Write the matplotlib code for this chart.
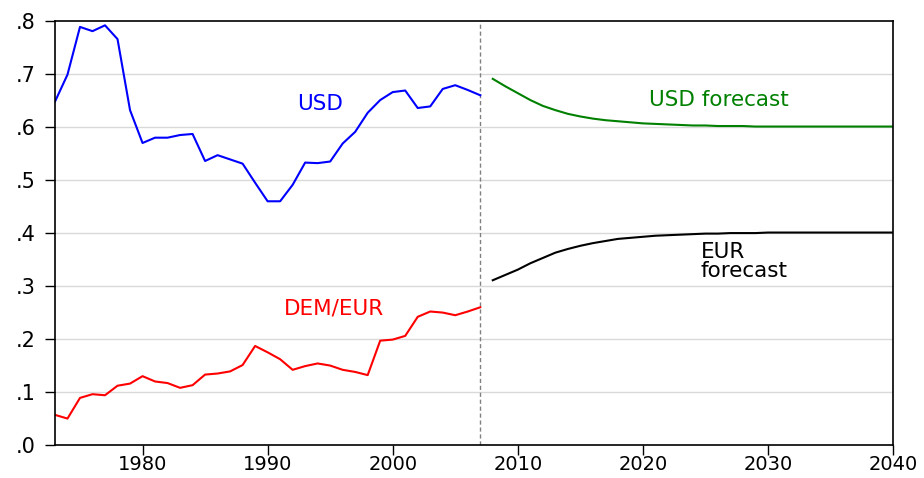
import matplotlib
matplotlib.use("Agg")
import matplotlib.pyplot as plt
from matplotlib.ticker import FuncFormatter

plt.rcParams['font.family'] = ['DejaVu Sans']

hist_years = list(range(1973, 2008))
usd = [0.647, 0.698, 0.788, 0.780, 0.791, 0.765, 0.631, 0.569, 0.579, 0.579,
       0.584, 0.586, 0.535, 0.546, 0.538, 0.530, 0.494, 0.459, 0.459, 0.490,
       0.532, 0.531, 0.534, 0.568, 0.590, 0.626, 0.650, 0.665, 0.668, 0.635,
       0.638, 0.671, 0.678, 0.669, 0.659]
dem_eur = [0.056, 0.049, 0.088, 0.095, 0.093, 0.111, 0.115, 0.129, 0.119, 0.116,
           0.107, 0.112, 0.132, 0.134, 0.138, 0.150, 0.186, 0.174, 0.161, 0.141,
           0.148, 0.153, 0.149, 0.141, 0.137, 0.131, 0.196, 0.198, 0.205, 0.241,
           0.251, 0.249, 0.244, 0.251, 0.259]

fc_years = list(range(2008, 2041))
usd_fc = [0.690, 0.676, 0.663, 0.650, 0.639, 0.631, 0.624, 0.619, 0.615, 0.612,
          0.610, 0.608, 0.606, 0.605, 0.604, 0.603, 0.602, 0.602, 0.601, 0.601,
          0.601, 0.600, 0.600, 0.600, 0.600, 0.600, 0.600, 0.600, 0.600, 0.600,
          0.600, 0.600, 0.600]
eur_fc = [0.310, 0.320, 0.330, 0.342, 0.352, 0.362, 0.369, 0.375, 0.380, 0.384,
          0.388, 0.390, 0.392, 0.394, 0.395, 0.396, 0.397, 0.398, 0.398, 0.399,
          0.399, 0.399, 0.400, 0.400, 0.400, 0.400, 0.400, 0.400, 0.400, 0.400,
          0.400, 0.400, 0.400]

split_year = 2007
x_ticks = [1980, 1990, 2000, 2010, 2020, 2030, 2040]
y_ticks = [0.0, 0.1, 0.2, 0.3, 0.4, 0.5, 0.6, 0.7, 0.8]

fig = plt.figure(figsize=(9.24, 4.78), dpi=100)
ax = fig.add_axes([0.0595, 0.070, 0.907, 0.887])

for y in y_ticks[1:-1]:
    ax.axhline(y, color='#d9d9d9', lw=1.0, zorder=0)

ax.axvline(split_year, color='#808080', lw=1.0, ls=(0, (3, 2)), zorder=1)

ax.plot(hist_years, usd, color='#0000ff', lw=1.5)
ax.plot(hist_years, dem_eur, color='#ff0000', lw=1.5)
ax.plot(fc_years, usd_fc, color='#008000', lw=1.5)
ax.plot(fc_years, eur_fc, color='#000000', lw=1.5)

ax.set_xlim(1973, 2040)
ax.set_ylim(0, 0.8)
ax.set_xticks(x_ticks)
ax.set_yticks(y_ticks)
ax.yaxis.set_major_formatter(FuncFormatter(lambda v, p: ('%.1f' % v)[1:]))
ax.tick_params(axis='both', direction='out', length=7, width=1.0, colors='black')
ax.tick_params(axis='x', pad=0.5, labelsize=14)
ax.tick_params(axis='y', pad=7, labelsize=15)
for s in ax.spines.values():
    s.set_linewidth(1.2)

fs = 15.5
ax.text(1994.2, 0.642, 'USD', color='#0000ff', fontsize=fs, va='center', ha='center')
ax.text(2026.1, 0.650, 'USD forecast', color='#008000', fontsize=fs, va='center', ha='center')
ax.text(1995.3, 0.2575, 'DEM/EUR', color='#ff0000', fontsize=fs, va='center', ha='center')
ax.text(2024.6, 0.346, 'EUR\nforecast', color='#000000', fontsize=fs, va='center',
        ha='left', linespacing=0.92)

fig.savefig('out.png', dpi=100)
